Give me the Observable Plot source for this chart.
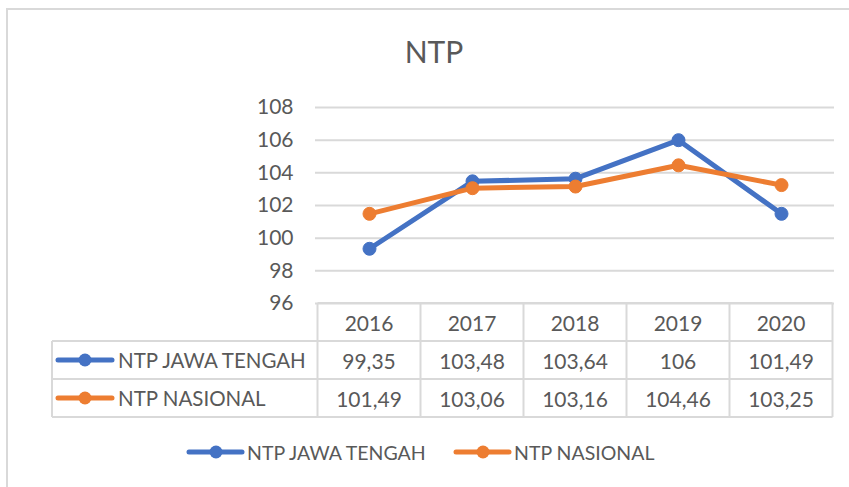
<!DOCTYPE html>
<html>
<head>
<meta charset="utf-8">
<script src="https://cdn.jsdelivr.net/npm/d3@7"></script>
<script src="https://cdn.jsdelivr.net/npm/@observablehq/plot@0.6"></script>
<style>
  body { margin: 0; background: #fff; }
  #wrap { position: relative; width: 849px; height: 487px; overflow: hidden; background: #fff;
          font-family: Lato, "Open Sans", sans-serif; color: #595959; }
  #frame { position: absolute; left: 6px; top: 8px; width: 900px; height: 600px;
           border-left: 2px solid #d9d9d9; border-top: 2px solid #d9d9d9; box-sizing: border-box; }
  #title { position: absolute; left: 434px; top: 33px; transform: translateX(-50%);
           font-size: 30px; color: #595959; white-space: nowrap; }
  #chart { position: absolute; left: 0; top: 0; }
  #overlay { position: absolute; left: 0; top: 0; }
</style>
</head>
<body>
<div id="wrap">
  <div id="frame"></div>
  <div id="chart"></div>
  <svg id="overlay" width="849" height="487"></svg>
  <div id="title">NTP</div>
</div>
<script>
const years = ["2016", "2017", "2018", "2019", "2020"];
const seriesNames = ["NTP JAWA TENGAH", "NTP NASIONAL"];
const jawaTengah = [99.35, 103.48, 103.64, 106, 101.49];
const nasional = [101.49, 103.06, 103.16, 104.46, 103.25];
const seriesValues = [jawaTengah, nasional];
const colors = ["#4472C4", "#ED7D31"];
const yTicks = [96, 98, 100, 102, 104, 106, 108];

const data = seriesNames.flatMap((s, i) =>
  years.map((y, j) => ({ series: s, year: y, value: seriesValues[i][j] })));

const fmt = v => String(v).replace(".", ",");
const textColor = "#595959";
const gridColor = "#d9d9d9";

const marks = [
  Plot.gridY(yTicks, { stroke: gridColor, strokeOpacity: 1, strokeWidth: 2 }),
  Plot.axisY(yTicks, { tickSize: 0, tickPadding: 22, fontSize: 21, fill: textColor, label: null })
];
seriesNames.forEach(s => {
  const d = data.filter(e => e.series === s);
  marks.push(Plot.line(d, { x: "year", y: "value", stroke: "series", strokeWidth: 5, strokeLinejoin: "round", strokeLinecap: "round" }));
  marks.push(Plot.dot(d, { x: "year", y: "value", fill: "series", stroke: "series", strokeWidth: 1, r: 6.5 }));
});

const chart = Plot.plot({
  width: 849,
  height: 487,
  marginTop: 107,
  marginBottom: 184,
  marginLeft: 315,
  marginRight: 15,
  x: { type: "point", domain: years, padding: 0.5, axis: null },
  y: { domain: [96, 108], label: null, axis: null },
  color: { domain: seriesNames, range: colors },
  style: { fontFamily: "Lato, 'Open Sans', sans-serif", fontSize: "21px", color: textColor, background: "transparent" },
  marks
});
document.getElementById("chart").appendChild(chart);

// Data table and legend, aligned to Plot's own scales
const xs = chart.scale("x");
const ys = chart.scale("y");
const color = chart.scale("color");
const step = xs.apply(years[1]) - xs.apply(years[0]);
const left0 = xs.apply(years[0]) - step / 2;
const right0 = xs.apply(years[years.length - 1]) + step / 2;
const top0 = ys.apply(96);
const rowH = 38;
const tableLeft = 52;

const svg = d3.select("#overlay");
const g = svg.append("g");
const line = (x1, y1, x2, y2) => g.append("line").attr("x1", x1).attr("y1", y1).attr("x2", x2).attr("y2", y2)
  .attr("stroke", gridColor).attr("stroke-width", 2);

// horizontal lines
line(left0, top0, right0, top0);
for (let r = 1; r <= 3; r++) line(tableLeft, top0 + r * rowH, right0, top0 + r * rowH);
// vertical lines
line(tableLeft, top0 + rowH, tableLeft, top0 + 3 * rowH);
years.forEach((y, i) => line(xs.apply(y) - step / 2, top0, xs.apply(y) - step / 2, top0 + 3 * rowH));
line(right0, top0, right0, top0 + 3 * rowH);

const txt = (x, y, s, anchor, size) => g.append("text").attr("x", x).attr("y", y).attr("text-anchor", anchor || "middle")
  .attr("dominant-baseline", "central").attr("fill", textColor)
  .style("font-family", "Lato, 'Open Sans', sans-serif").style("font-size", (size || 21) + "px").text(s);

years.forEach(y => txt(xs.apply(y), top0 + rowH / 2, y));
seriesNames.forEach((s, i) => {
  const cy = top0 + rowH * (i + 1) + rowH / 2;
  years.forEach((y, j) => txt(xs.apply(y), cy, fmt(seriesValues[i][j])));
  // swatch
  g.append("line").attr("x1", 58).attr("x2", 112).attr("y1", cy).attr("y2", cy)
    .attr("stroke", color.apply(s)).attr("stroke-width", 5).attr("stroke-linecap", "round");
  g.append("circle").attr("cx", 85).attr("cy", cy).attr("r", 6.5).attr("fill", color.apply(s));
  txt(118, cy, s, "start", 20.5);
});

// bottom legend
const legendY = 452;
const legendX = [189, 456];
seriesNames.forEach((s, i) => {
  const x0 = legendX[i];
  g.append("line").attr("x1", x0).attr("x2", x0 + 53).attr("y1", legendY).attr("y2", legendY)
    .attr("stroke", color.apply(s)).attr("stroke-width", 5).attr("stroke-linecap", "round");
  g.append("circle").attr("cx", x0 + 27).attr("cy", legendY).attr("r", 6.5).attr("fill", color.apply(s));
  txt(x0 + 58, legendY, s, "start", 19.5);
});
</script>
</body>
</html>
